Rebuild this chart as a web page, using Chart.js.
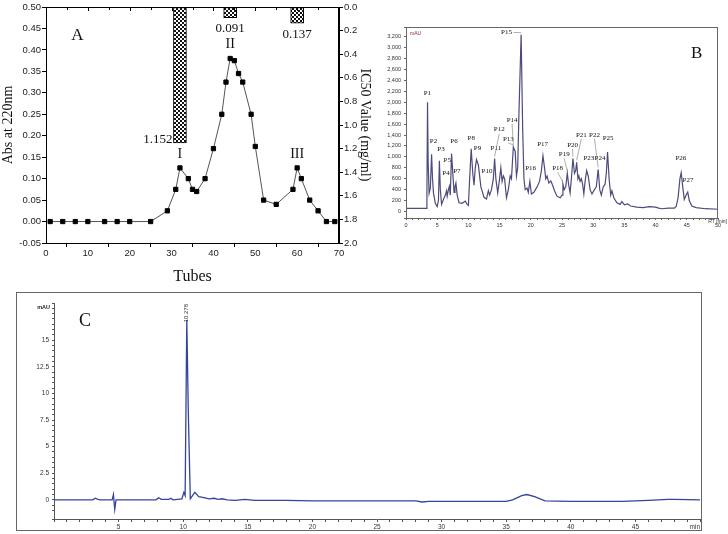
<!DOCTYPE html>
<html>
<head>
<meta charset="utf-8">
<script src="https://cdn.jsdelivr.net/npm/chart.js@4.4.0/dist/chart.umd.min.js"></script>
<style>
  body { margin:0; background:#fff; width:728px; height:534px; position:relative; overflow:hidden; }
  canvas { position:absolute; }
  #chartA { left:0; top:0; }
  #chartB { left:372px; top:0; }
  #boxC { position:absolute; left:16px; top:292px; width:684px; height:237px; border:1px solid #666; }
  #chartC { left:0; top:0; }
</style>
</head>
<body>
<canvas id="chartA" width="373" height="290"></canvas>
<canvas id="chartB" width="356" height="235"></canvas>
<div id="boxC"><canvas id="chartC" width="684" height="237"></canvas></div>
<script>
/* ========= Data: panel A (gel filtration) ========= */
const tubes = [1,4,7,10,14,17,20,25,29,31,32,34,35,36,38,40,42,43,44,45,46,47,49,50,52,55,59,60,61,63,65,67,69];
const absValues = [0,0,0,0,0,0,0,0,0.025,0.075,0.125,0.10,0.075,0.07,0.10,0.17,0.25,0.325,0.38,0.375,0.345,0.325,0.25,0.175,0.05,0.04,0.075,0.125,0.10,0.05,0.025,0,0];
const fractionTubes = [32,44,60];
const ic50Values = [1.152,0.091,0.137];
const fractionNames = ["I","II","III"];

/* ========= Data: panel B (RP-HPLC profile) ========= */
const rtB = [0,3.3,3.35,3.45,3.55,3.7,3.9,4.1,4.25,4.4,4.7,5.0,5.2,5.35,5.5,5.7,6.0,6.3,6.5,6.6,6.8,6.95,7.1,7.3,7.5,7.7,7.85,8.0,8.2,8.5,9.0,9.5,9.8,10.0,10.2,10.45,10.7,10.9,11.1,11.3,11.6,12.0,12.5,12.9,13.2,13.4,13.7,14.0,14.2,14.4,14.7,15.0,15.2,15.4,15.6,15.8,16.1,16.4,16.7,16.9,17.2,17.5,17.7,17.9,18.1,18.45,18.7,18.9,19.1,19.4,19.6,19.85,20.1,20.5,21.0,21.4,21.7,21.95,22.2,22.4,22.6,22.9,23.2,23.5,23.8,24.2,24.7,25.0,25.15,25.35,25.6,25.85,26.05,26.3,26.5,26.75,27.0,27.2,27.35,27.55,27.7,27.9,28.1,28.3,28.5,28.7,28.95,29.2,29.5,29.8,30.2,30.5,30.8,31.05,31.3,31.6,31.9,32.1,32.3,32.55,32.8,33.0,33.3,33.8,34.3,34.6,35,35.5,36,37,38,39,40,40.5,41,42,43,43.3,43.6,43.9,44.1,44.35,44.6,44.9,45.15,45.4,45.8,46.5,48,50];
const mauB = [55,55,300,2000,900,330,420,1050,600,340,150,90,200,930,400,130,220,300,380,280,400,460,300,1060,700,350,450,520,300,160,150,190,130,110,600,1150,700,480,800,950,850,450,260,230,380,300,400,600,970,600,340,600,800,550,650,600,250,400,650,600,1180,1100,650,800,1800,3240,1500,600,400,430,350,550,320,350,450,550,750,1020,800,600,650,520,560,480,380,280,250,300,500,400,450,700,500,340,600,970,700,750,900,600,650,550,600,500,320,550,750,650,400,320,400,450,770,400,300,450,500,700,1090,600,300,380,250,160,130,180,120,140,100,80,70,90,80,60,50,60,60,90,250,600,710,450,220,300,355,200,100,70,50,40];
const peakNamesB = ["P1","P2","P3","P4","P5","P6","P7","P8","P9","P10","P11","P12","P13","P14","P15","P16","P17","P18","P19","P20","P21","P22","P23","P24","P25","P26","P27"];
const peakLabelRtB = [3.43,4.4,5.6,6.4,6.6,7.7,8.15,10.45,11.46,12.97,14.4,14.95,16.4,17.0,16.1,19.98,21.9,24.3,25.35,26.7,28.1,30.2,29.3,31.1,32.4,44.05,45.2];
const peakLabelMauB = [2170,1280,1140,710,940,1280,740,1350,1160,730,1155,1500,1330,1680,3280,800,1230,790,1045,1220,1405,1405,970,970,1345,970,575];

/* ========= Data: panel C (purified peptide) ========= */
const rtC = [0,3.0,3.2,3.4,3.6,4.5,4.6,4.7,4.8,5,7.9,8.1,8.3,8.9,9.05,9.2,9.9,10.05,10.15,10.278,10.4,10.55,10.9,11.2,11.6,12,12.4,12.7,13,13.4,14,14.8,15.5,18,20,28,28.5,29,30,35,35.5,36.2,36.6,37.2,38,40,44,46,47.5,48,50];
const mauC = [0,0,0.15,0.05,0,0,0.5,-0.9,0,0,0,0.2,0.05,0.05,0.15,0,0.1,0.7,0.4,16.9,8,0.1,0.7,0.3,0.2,0.1,0.15,0.05,0.1,0,-0.05,0.05,-0.05,-0.05,-0.1,-0.1,-0.2,-0.15,-0.15,-0.15,0,0.4,0.5,0.3,-0.1,-0.15,-0.15,-0.05,0.05,0.05,0];

/* ========= Helpers ========= */
const SERIF = "'Liberation Serif', 'DejaVu Serif', serif";
const SANS = "'Liberation Sans', Arial, sans-serif";

function checkerPattern() {
  const c = document.createElement("canvas");
  c.width = 4; c.height = 4;
  const g = c.getContext("2d");
  g.fillStyle = "#fff"; g.fillRect(0,0,4,4);
  g.fillStyle = "#111";
  g.fillRect(0,0,2,2); g.fillRect(2,2,2,2);
  return g.createPattern(c, "repeat");
}

function frame(color) {
  return {
    id: "frame",
    afterDraw(chart) {
      const a = chart.chartArea, ctx = chart.ctx;
      ctx.save();
      ctx.strokeStyle = color; ctx.lineWidth = 1;
      ctx.strokeRect(Math.round(a.left)+0.5, Math.round(a.top)+0.5, Math.round(a.right-a.left)-1, Math.round(a.bottom-a.top));
      ctx.restore();
    }
  };
}

function fixSize(w, h) {
  return s => { if (w != null) s.width = w; if (h != null) s.height = h; };
}

/* ========= Panel A ========= */
const annotateA = {
  id: "annotateA",
  afterDraw(chart) {
    const ctx = chart.ctx, x = chart.scales.x, y = chart.scales.y, y2 = chart.scales.y2;
    ctx.save();
    ctx.fillStyle = "#111";
    // top inner ticks
    ctx.strokeStyle = "#000"; ctx.lineWidth = 1;
    for (let v = 5; v < 70; v += 5) {
      const px = Math.round(x.getPixelForValue(v)) + 0.5;
      ctx.beginPath(); ctx.moveTo(px, chart.chartArea.top); ctx.lineTo(px, chart.chartArea.top + (v % 10 === 0 ? 4 : 3)); ctx.stroke();
    }
    ctx.font = "17px " + SERIF;
    ctx.textAlign = "center"; ctx.textBaseline = "middle";
    ctx.fillText("A", x.getPixelForValue(7.5), y.getPixelForValue(0.434));
    // IC50 values beside bars
    ctx.font = "13px " + SERIF;
    ctx.textAlign = "right";
    ctx.fillText(ic50Values[0].toFixed(3), x.getPixelForValue(fractionTubes[0]) - 7.5, y2.getPixelForValue(ic50Values[0]) - 3);
    ctx.textAlign = "center";
    for (let i = 1; i < fractionTubes.length; i++) {
      ctx.fillText(ic50Values[i].toFixed(3), x.getPixelForValue(fractionTubes[i]), y2.getPixelForValue(ic50Values[i]) + 11);
    }
    // fraction names above the peaks
    ctx.font = "14px " + SERIF;
    fractionTubes.forEach((t, i) => {
      const k = tubes.indexOf(t);
      ctx.fillText(fractionNames[i], x.getPixelForValue(t), y.getPixelForValue(absValues[k]) - 14);
    });
    ctx.restore();
  }
};

new Chart(document.getElementById("chartA"), {
  type: "bar",
  data: {
    datasets: [
      {
        type: "line",
        label: "Abs at 220nm",
        data: tubes.map((t, i) => ({ x: t, y: absValues[i] })),
        yAxisID: "y",
        borderColor: "#555",
        borderWidth: 1,
        pointStyle: "rect",
        pointRadius: 3,
        pointBackgroundColor: "#000",
        pointBorderColor: "#000",
        tension: 0
      },
      {
        type: "bar",
        label: "IC50",
        data: fractionTubes.map((t, i) => ({ x: t, y: ic50Values[i] })),
        yAxisID: "y2",
        backgroundColor: checkerPattern(),
        borderColor: "#000",
        borderWidth: 1,
        borderSkipped: false,
        barThickness: 13
      }
    ]
  },
  options: {
    responsive: false,
    animation: false,
    layout: { padding: { top: 7, left: 0, right: 0, bottom: 0 } },
    plugins: { legend: { display: false }, tooltip: { enabled: false } },
    scales: {
      x: {
        type: "linear", min: 0, max: 70, offset: false,
        ticks: { stepSize: 10, font: { family: SANS, size: 9.5 }, color: "#222", padding: 1 },
        grid: { drawOnChartArea: false, tickLength: 4, color: "#000" },
        border: { color: "#000" },
        title: { display: true, text: "Tubes", font: { family: SERIF, size: 16 }, color: "#111", padding: { top: 6 } },
        afterFit: fixSize(null, 47)
      },
      y: {
        position: "left", min: -0.05, max: 0.5,
        ticks: { stepSize: 0.05, callback: v => v.toFixed(2), font: { family: SANS, size: 9.5 }, color: "#222", padding: 1 },
        grid: { drawOnChartArea: false, tickLength: 4, color: "#000" },
        border: { color: "#000" },
        title: { display: true, text: "Abs at 220nm", font: { family: SERIF, size: 14 }, color: "#111", padding: 0 },
        afterFit: fixSize(46, null)
      },
      y2: {
        position: "right", min: 0, max: 2, reverse: true,
        ticks: { stepSize: 0.2, callback: v => v.toFixed(1), font: { family: SANS, size: 9.5 }, color: "#222", padding: 1 },
        grid: { drawOnChartArea: false, tickLength: 4, color: "#000" },
        border: { color: "#000" },
        title: { display: true, text: "IC50 Value (mg/ml)", font: { family: SERIF, size: 14 }, color: "#111", padding: 0 },
        afterFit: fixSize(34, null)
      }
    }
  },
  plugins: [frame("#000"), annotateA]
});

/* ========= Panel B ========= */
const leaderB = ["P12","P13","P14","P15","P18","P19","P20","P21","P22"];
const annotateB = {
  id: "annotateB",
  afterDraw(chart) {
    const ctx = chart.ctx, x = chart.scales.x, y = chart.scales.y, a = chart.chartArea;
    ctx.save();
    ctx.fillStyle = "#8b1a1a";
    ctx.font = "5px " + SANS;
    ctx.textAlign = "left"; ctx.textBaseline = "middle";
    ctx.fillText("mAU", a.left + 4, a.top + 7);
    ctx.fillStyle = "#333";
    ctx.textAlign = "right";
    ctx.fillText("RT [min]", a.right + 9, a.bottom + 4);
    ctx.fillStyle = "#111";
    ctx.font = "17px " + SERIF;
    ctx.textAlign = "center";
    ctx.fillText("B", x.getPixelForValue(46.6), y.getPixelForValue(2900));
    ctx.font = "7px " + SERIF;
    ctx.strokeStyle = "#777"; ctx.lineWidth = 0.6;
    peakNamesB.forEach((n, i) => {
      const px = x.getPixelForValue(peakLabelRtB[i]), py = y.getPixelForValue(peakLabelMauB[i]);
      ctx.fillText(n, px, py);
      if (leaderB.includes(n)) {
        // leader line to nearest apex in the trace
        let best = 0, bi = 0;
        rtB.forEach((t, k) => { if (Math.abs(t - peakLabelRtB[i]) < 0.9 && mauB[k] > best && mauB[k] < peakLabelMauB[i]) { best = mauB[k]; bi = k; } });
        if (n === "P15") { bi = rtB.indexOf(18.45); }
        ctx.beginPath();
        ctx.moveTo(n === "P15" ? px + 7 : px, n === "P15" ? py : py + 4);
        ctx.lineTo(x.getPixelForValue(rtB[bi]), y.getPixelForValue(mauB[bi]) - 2);
        ctx.stroke();
      }
    });
    ctx.restore();
  }
};

new Chart(document.getElementById("chartB"), {
  type: "line",
  data: {
    datasets: [{
      label: "mAU",
      data: rtB.map((t, i) => ({ x: t, y: mauB[i] })),
      borderColor: "#4b4b7c",
      borderWidth: 1.2,
      pointRadius: 0,
      tension: 0
    }]
  },
  options: {
    responsive: false,
    animation: false,
    layout: { padding: { top: 27, left: 0, right: 10, bottom: 0 } },
    plugins: { legend: { display: false }, tooltip: { enabled: false } },
    scales: {
      x: {
        type: "linear", min: 0, max: 50,
        ticks: { stepSize: 1, autoSkip: false, maxRotation: 0, callback: v => v % 5 === 0 ? String(v) : "", font: { family: SANS, size: 5.5 }, color: "#333", padding: 2 },
        grid: { drawOnChartArea: false, tickLength: 2, color: "#666" },
        border: { color: "#666" },
        afterFit: fixSize(null, 17)
      },
      y: {
        min: -120, max: 3380,
        ticks: { stepSize: 200, autoSkip: false, callback: v => (v >= 0 && v <= 3200) ? v.toLocaleString("en-US") : "", font: { family: SANS, size: 5.5 }, color: "#333", padding: 3 },
        grid: { drawOnChartArea: false, tickLength: 2, color: "#666" },
        border: { color: "#666" },
        afterFit: fixSize(34, null)
      }
    }
  },
  plugins: [frame("#666"), annotateB]
});

/* ========= Panel C ========= */
const peakLabelC = "10.278";
const annotateC = {
  id: "annotateC",
  afterDraw(chart) {
    const ctx = chart.ctx, x = chart.scales.x, a = chart.chartArea;
    ctx.save();
    ctx.fillStyle = "#222";
    ctx.font = "bold 5.5px " + SANS;
    ctx.textAlign = "right"; ctx.textBaseline = "middle";
    ctx.fillText("mAU", a.left - 4, a.top + 4);
    ctx.font = "18px " + SERIF;
    ctx.textAlign = "center";
    ctx.fillStyle = "#111";
    ctx.fillText("C", x.getPixelForValue(2.4), a.top + 18);
    ctx.translate(x.getPixelForValue(parseFloat(peakLabelC)), a.top + 1);
    ctx.rotate(-Math.PI / 2);
    ctx.font = "6px " + SANS;
    ctx.fillStyle = "#333";
    ctx.textAlign = "right";
    ctx.fillText(peakLabelC, 0, 0);
    ctx.restore();
  }
};

new Chart(document.getElementById("chartC"), {
  type: "line",
  data: {
    datasets: [{
      label: "mAU",
      data: rtC.map((t, i) => ({ x: t, y: mauC[i] })),
      borderColor: "#34449a",
      borderWidth: 1.3,
      pointRadius: 0,
      tension: 0
    }]
  },
  options: {
    responsive: false,
    animation: false,
    layout: { padding: { top: 10, left: 0, right: 0, bottom: 0 } },
    plugins: { legend: { display: false }, tooltip: { enabled: false } },
    scales: {
      x: {
        type: "linear", min: 0, max: 50,
        ticks: { stepSize: 1, autoSkip: false, maxRotation: 0, align: "inner", callback: v => v === 50 ? "min" : (v > 0 && v % 5 === 0 ? String(v) : ""), font: { family: SANS, size: 6.5 }, color: "#333", padding: 1 },
        grid: { drawOnChartArea: false, tickLength: 3, color: "#555" },
        border: { color: "#555" },
        afterFit: fixSize(null, 11)
      },
      y: {
        min: -1.8, max: 18.5,
        ticks: { stepSize: 0.5, autoSkip: false, callback: v => (v >= 0 && v <= 15 && Math.abs(v / 2.5 - Math.round(v / 2.5)) < 1e-6) ? String(v) : "", font: { family: SANS, size: 6.5 }, color: "#333", padding: 3 },
        grid: { drawOnChartArea: false, tickLength: 2, color: "#555" },
        border: { color: "#555" },
        afterFit: fixSize(37, null)
      }
    }
  },
  plugins: [annotateC]
});
</script>
</body>
</html>
